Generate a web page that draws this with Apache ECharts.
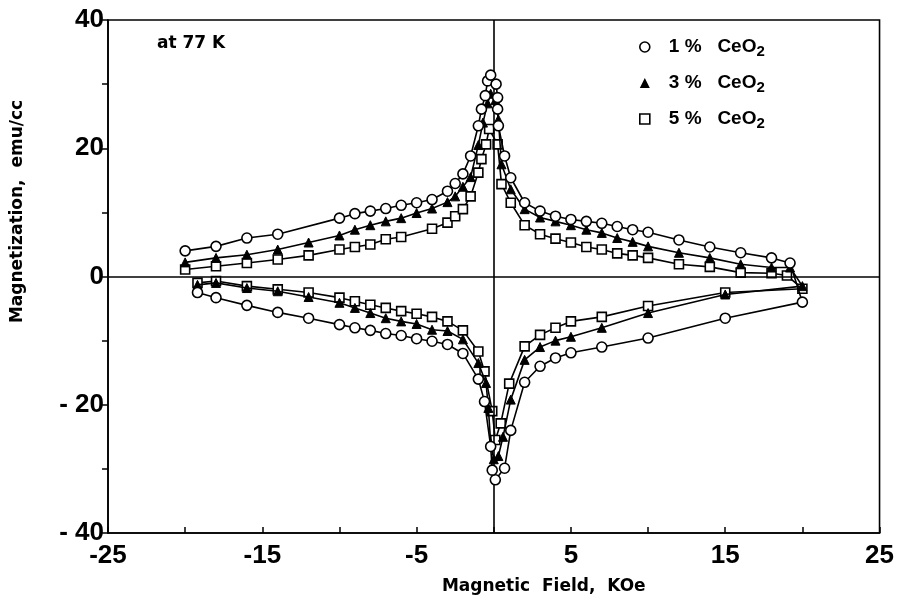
<!DOCTYPE html>
<html>
<head>
<meta charset="utf-8">
<script src="https://cdn.jsdelivr.net/npm/echarts@6/dist/echarts.min.js"></script>
<style>html,body{margin:0;padding:0;background:#fff}#c{width:897px;height:600px}</style>
</head>
<body>
<div id="c"></div>
<script>
// ---- data (Magnetic Field in KOe, Magnetization in emu/cc) ----
const seriesNames = ['1 % CeO2', '3 % CeO2', '5 % CeO2'];
const xTicks = [-25, -15, -5, 5, 15, 25];
const yTicks = [40, 20, 0, -20, -40];

const field1 = [-20,-18,-16,-14,-10,-9,-8,-7,-6,-5,-4,-3,-2.5,-2,-1.5,-1,-0.8,-0.55,-0.4,-0.2,0.15,0.25,0.25,0.3,0.7,1.1,2,3,4,5,6,7,8,9,10,12,14,16,18,19.2,
  20,15,10,7,5,4,3,2,1.1,0.7,0.1,-0.1,-0.2,-0.6,-1,-2,-3,-4,-5,-6,-7,-8,-9,-10,-12,-14,-16,-18,-19.2];
const mag1 = [4.0,4.7,6.0,6.6,9.1,9.8,10.2,10.6,11.1,11.5,12.0,13.3,14.5,16.0,18.8,23.5,26.1,28.2,30.5,31.4,30.0,27.9,26.1,23.5,18.8,15.4,11.5,10.2,9.4,8.9,8.6,8.3,7.8,7.3,6.9,5.7,4.6,3.7,2.9,2.1,
  -4.0,-6.5,-9.6,-11.0,-11.9,-12.7,-14.0,-16.5,-24.0,-29.9,-31.7,-30.2,-26.5,-19.5,-16.0,-12.0,-10.6,-10.1,-9.7,-9.2,-8.9,-8.4,-8.0,-7.5,-6.5,-5.6,-4.5,-3.3,-2.5];

const field3 = [-20,-18,-16,-14,-12,-10,-9,-8,-7,-6,-5,-4,-3,-2.5,-2,-1.5,-1,-0.7,-0.4,-0.2,0.1,0.3,0.5,1.1,2,3,4,5,6,7,8,9,10,12,14,16,18,19.2,
  20,15,10,7,5,4,3,2,1.1,0.6,0.3,0,-0.2,-0.35,-0.5,-1,-2,-3,-4,-5,-6,-7,-8,-9,-10,-12,-14,-16,-18,-19.2];
const mag3 = [2.2,2.9,3.4,4.2,5.3,6.4,7.3,8.0,8.6,9.1,9.9,10.6,11.6,12.5,14.0,15.5,20.5,24.0,27.0,28.5,27.5,24.5,17.5,13.6,10.5,9.2,8.6,8.0,7.3,6.8,6.0,5.4,4.7,3.7,2.9,1.9,1.4,1.4,
  -1.5,-2.8,-5.7,-8.0,-9.4,-10.0,-11.0,-13.0,-19.2,-25.0,-28.0,-28.5,-26.0,-20.5,-16.6,-13.5,-9.8,-8.5,-8.3,-7.4,-7.0,-6.5,-5.7,-4.9,-4.1,-3.2,-2.3,-1.8,-1.0,-1.3];

const field5 = [-20,-18,-16,-14,-12,-10,-9,-8,-7,-6,-4,-3,-2.5,-2,-1.5,-1,-0.8,-0.5,-0.3,0.25,0.5,1.1,2,3,4,5,6,7,8,9,10,12,14,16,18,19,
  20,15,10,7,5,4,3,2,1,0.45,0.1,-0.1,-0.6,-1,-2,-3,-4,-5,-6,-7,-8,-9,-10,-12,-14,-16,-18,-19.2];
const mag5 = [1.1,1.6,2.1,2.65,3.3,4.2,4.6,5.0,5.8,6.15,7.45,8.4,9.4,10.5,12.5,16.2,18.3,20.6,23.0,20.6,14.4,11.5,8.0,6.6,5.9,5.3,4.6,4.2,3.6,3.3,2.9,1.9,1.5,0.6,0.5,0.15,
  -1.9,-2.5,-4.6,-6.3,-7.0,-8.0,-9.1,-10.9,-16.7,-22.9,-25.5,-21.0,-14.8,-11.7,-8.4,-7.0,-6.3,-5.8,-5.4,-4.9,-4.4,-3.85,-3.3,-2.5,-2.0,-1.5,-0.7,-1.0];

const zip = (xs, ys) => xs.map((x, i) => [x, ys[i]]);

const FONT = "'Liberation Sans', Arial, sans-serif";
const WIDE = "'DejaVu Sans', 'Liberation Sans', sans-serif";
const chart = echarts.init(document.getElementById('c'), null, {renderer: 'canvas'});

const lineStyle = {color: '#000', width: 1.6};
const openStyle = {color: '#fff', borderColor: '#000', borderWidth: 1.6};

chart.setOption({
  animation: false,
  backgroundColor: '#fff',
  textStyle: {fontFamily: FONT},
  title: {
    text: 'at 77 K', left: 152, top: 30,
    textStyle: {fontFamily: WIDE, fontSize: 17, fontWeight: 'bold', color: '#000'}
  },
  legend: {
    orient: 'vertical', left: 634, top: 30,
    itemWidth: 10, itemHeight: 10, itemGap: 12,
    data: [
      {name: seriesNames[0], icon: 'circle', itemStyle: {color: '#fff', borderColor: '#000', borderWidth: 1.6}},
      {name: seriesNames[1], icon: 'triangle', itemStyle: {color: '#000', borderColor: '#000', borderWidth: 0}},
      {name: seriesNames[2], icon: 'rect', itemStyle: {color: '#fff', borderColor: '#000', borderWidth: 1.6}}
    ],
    formatter: function (name) {
      const pct = name.split(' ')[0];
      return '{t|' + pct + ' %   CeO}{s|2}';
    },
    textStyle: {
      color: '#000',
      rich: {
        t: {fontFamily: FONT, fontSize: 19, fontWeight: 'bold', color: '#000', padding: [0, 0, 0, 14], lineHeight: 23},
        s: {fontFamily: FONT, fontSize: 15, fontWeight: 'bold', color: '#000', padding: [9, 0, 0, 0], lineHeight: 23}
      }
    }
  },
  grid: {left: 108, right: 17, top: 20, bottom: 67, show: true, borderColor: '#000', borderWidth: 1.6, backgroundColor: 'transparent'},
  xAxis: {
    type: 'value', min: -25, max: 25, interval: 5,
    name: 'Magnetic  Field,  KOe', nameLocation: 'middle', nameGap: 45,
    nameTextStyle: {fontFamily: WIDE, fontSize: 17, fontWeight: 'bold', color: '#000', padding: [0, 0, 0, 100]},
    axisLine: {show: true, onZero: false, lineStyle: {color: '#000', width: 1.6}},
    axisTick: {show: true, inside: true, length: 6, lineStyle: {color: '#000', width: 1.5}},
    axisLabel: {
      margin: 10, color: '#000', fontFamily: FONT, fontSize: 26, fontWeight: 'bold',
      formatter: v => xTicks.indexOf(v) >= 0 ? String(v) : ''
    },
    splitLine: {show: false}
  },
  yAxis: {
    type: 'value', min: -40, max: 40, interval: 10,
    name: 'Magnetization,  emu/cc', nameLocation: 'middle', nameGap: 82,
    nameTextStyle: {fontFamily: WIDE, fontSize: 17, fontWeight: 'bold', color: '#000', padding: [0, 0, 0, 130]},
    axisLine: {show: true, onZero: false, lineStyle: {color: '#000', width: 1.6}},
    axisTick: {show: true, inside: false, length: 6, lineStyle: {color: '#000', width: 1.5}},
    axisLabel: {
      margin: 4, color: '#000', fontFamily: FONT, fontSize: 26, fontWeight: 'bold',
      formatter: v => yTicks.indexOf(v) >= 0 ? (v < 0 ? '- ' + Math.abs(v) : String(v)) : ''
    },
    splitLine: {show: false}
  },
  series: [
    {
      name: seriesNames[2], type: 'line', data: zip(field5, mag5),
      symbol: 'rect', symbolSize: 9, itemStyle: openStyle, lineStyle: lineStyle, z: 3,
      markLine: {
        silent: true, symbol: 'none', label: {show: false},
        lineStyle: {color: '#000', width: 1.6, type: 'solid'},
        data: [{yAxis: 0}, {xAxis: 0}]
      }
    },
    {
      name: seriesNames[1], type: 'line', data: zip(field3, mag3),
      symbol: 'triangle', symbolSize: 9, itemStyle: {color: '#000', borderColor: '#000'}, lineStyle: lineStyle, z: 4
    },
    {
      name: seriesNames[0], type: 'line', data: zip(field1, mag1),
      symbol: 'circle', symbolSize: 10, itemStyle: openStyle, lineStyle: lineStyle, z: 5
    }
  ]
});
</script>
</body>
</html>
